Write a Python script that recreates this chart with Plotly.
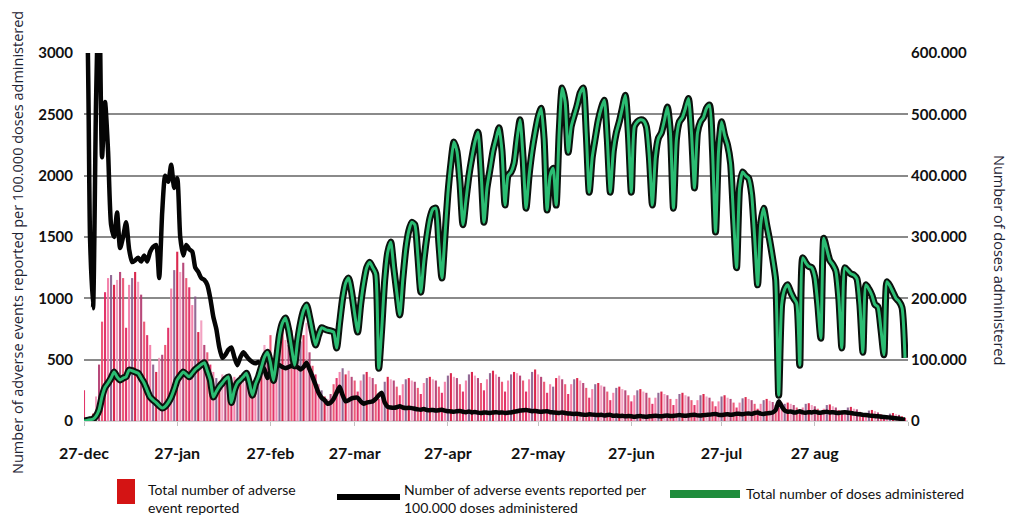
import pandas as pd
import plotly.graph_objects as go

# ---------------------------------------------------------------------------
# Daily series, 27 Dec 2020 onwards (one value per day, listed week by week,
# each week starting on a Sunday)
# ---------------------------------------------------------------------------
start_date = "2020-12-27"

# Total number of adverse events reported per day
adverse_events = [
    250, 20, 30, 60, 200, 460, 810,
    1050, 1165, 1190, 1110, 1150, 1215, 1165,
    760, 1110, 1165, 1215, 1135, 1030, 810,
    700, 620, 460, 400, 515, 540, 620,
    760, 1080, 1230, 1380, 1215, 1290, 1165,
    1090, 945, 1015, 725, 820, 620, 560,
    460, 400, 350, 320, 380, 350, 320,
    250, 360, 330, 375, 320, 340, 300,
    280, 350, 400, 520, 620, 560, 700,
    480, 620, 700, 740, 660, 620, 740,
    500, 600, 650, 700, 800, 560, 450,
    380, 300, 250, 200, 180, 220, 300,
    350, 400, 430, 380, 410, 360, 330,
    240, 330, 380, 400, 360, 350, 300,
    180, 200, 320, 360, 340, 330, 280,
    210, 300, 340, 350, 330, 320, 270,
    220, 310, 350, 360, 340, 330, 280,
    230, 320, 370, 390, 360, 350, 300,
    240, 330, 380, 400, 370, 350, 310,
    250, 340, 390, 410, 380, 360, 320,
    240, 330, 380, 400, 390, 370, 330,
    240, 340, 400, 420, 380, 360, 320,
    230, 300, 280, 350, 370, 340, 300,
    220, 300, 340, 350, 330, 310, 270,
    190, 260, 300, 310, 290, 280, 240,
    170, 230, 270, 280, 260, 250, 210,
    160, 210, 250, 260, 240, 230, 190,
    140, 190, 230, 240, 220, 210, 180,
    130, 180, 220, 230, 210, 200, 170,
    130, 170, 210, 220, 200, 190, 160,
    120, 160, 200, 210, 190, 180, 150,
    110, 150, 185, 195, 180, 170, 140,
    100, 140, 170, 180, 165, 155, 130,
    110, 150, 140, 150, 140, 130, 110,
    80, 110, 140, 145, 130, 120, 100,
    70, 100, 130, 135, 120, 110, 90,
    60, 85, 110, 115, 100, 95, 75,
    45, 65, 85, 90, 80, 70, 55,
    30, 45, 60, 65, 55, 50, 40,
    25,
]

# Adverse events reported per 100.000 doses administered
events_per_100k = [
    3500, 3300, 1500, 920, 2600, 3600, 2150,
    2600, 2200, 1600, 1500, 1700, 1410, 1500,
    1620, 1400, 1295, 1310, 1330, 1300, 1350,
    1300, 1380, 1420, 1435, 1165, 1700, 2000,
    1950, 2090, 1900, 1980, 1500, 1350, 1435,
    1400, 1380, 1250, 1215, 1165, 1150, 1110,
    1000, 850, 750, 600, 515, 540, 580,
    600, 520, 455, 520, 560, 530, 500,
    480, 470, 480, 460, 420, 350, 400,
    440, 455, 455, 440, 430, 440, 450,
    440, 440, 420, 440, 475, 420, 360,
    295, 230, 190, 170, 140, 150, 180,
    230, 280, 210, 160, 170, 185, 190,
    190, 160, 140, 150, 155, 160, 180,
    210, 230, 150, 115, 110, 108, 112,
    120, 110, 105, 108, 105, 100, 95,
    92, 98, 90, 88, 90, 85, 88,
    92, 85, 80, 78, 75, 80, 82,
    75, 72, 78, 70, 74, 68, 65,
    70, 68, 65, 70, 72, 68, 70,
    66, 68, 70, 75, 80, 85, 88,
    90, 85, 80, 82, 78, 75, 78,
    80, 72, 70, 68, 66, 70, 65,
    62, 60, 58, 60, 55, 52, 50,
    55, 52, 50, 48, 50, 45, 48,
    50, 42, 45, 40, 42, 38, 40,
    38, 35, 38, 40, 36, 35, 38,
    40, 42, 40, 38, 42, 45, 40,
    42, 45, 48, 44, 42, 45, 48,
    50, 46, 44, 48, 50, 52, 55,
    58, 50, 48, 52, 55, 50, 54,
    60, 58, 55, 60, 62, 58, 65,
    70, 60, 58, 62, 65, 70, 90,
    160, 120, 85, 75, 78, 70, 72,
    80, 70, 68, 72, 70, 75, 70,
    68, 72, 75, 70, 72, 68, 65,
    70, 72, 68, 65, 60, 58, 55,
    50, 48, 45, 42, 40, 38, 35,
    32, 30, 28, 25, 22, 20, 15,
    12,
]

# Total number of doses administered per day (thousands)
doses_thousands = [
    0, 1, 2, 3, 8, 18, 40,
    55, 62, 70, 80, 72, 67, 70,
    72, 83, 82, 80, 78, 70, 62,
    50, 39, 34, 30, 25, 21, 24,
    30, 39, 52, 67, 74, 80, 76,
    72, 78, 84, 88, 92, 95, 82,
    67, 39, 48, 56, 62, 68, 72,
    30, 50, 62, 67, 72, 78, 62,
    42, 60, 72, 88, 104, 112, 95,
    66, 100, 140, 160, 168, 150, 120,
    91, 130, 160, 180, 189, 170, 145,
    124, 140, 152, 150, 148, 147, 145,
    119, 160, 200, 225, 233, 210, 175,
    145, 190, 225, 250, 259, 250, 240,
    86, 150, 230, 275, 292, 250, 210,
    173, 230, 280, 310, 324, 320, 270,
    210, 260, 300, 330, 345, 347, 290,
    233, 300, 370, 420, 455, 440, 390,
    320, 360, 400, 430, 455, 471, 410,
    324, 380, 410, 440, 460, 478, 440,
    352, 400, 406, 420, 460, 491, 430,
    347, 400, 440, 470, 495, 510, 460,
    344, 400, 412, 352, 470, 543, 520,
    438, 480, 498, 515, 535, 543, 470,
    373, 430, 461, 490, 510, 523, 460,
    373, 440, 470, 488, 510, 531, 470,
    373, 480, 488, 491, 490, 480, 430,
    352, 430, 461, 470, 490, 512, 470,
    347, 460, 488, 495, 510, 526, 470,
    380, 470, 488, 495, 510, 515, 440,
    308, 440, 488, 466, 450, 420, 330,
    250, 380, 406, 400, 396, 370, 300,
    222, 320, 347, 320, 295, 265, 230,
    42, 190, 215, 222, 210, 200, 192,
    91, 266, 258, 252, 250, 235, 190,
    135, 298, 280, 262, 255, 245, 200,
    119, 250, 245, 240, 238, 232, 190,
    112, 222, 215, 205, 190, 186, 150,
    108, 227, 220, 210, 200, 195, 185,
    103,
]

# Axis ticks
x_tick_dates = ["2020-12-27", "2021-01-27", "2021-02-27", "2021-03-27",
                "2021-04-27", "2021-05-27", "2021-06-27", "2021-07-27",
                "2021-08-27", "2021-09-27"]
x_tick_labels = ["27-dec", "27-jan", "27-feb", "27-mar", "27-apr",
                 "27-may", "27-jun", "27-jul", "27 aug", ""]
left_tick_values = [0, 500, 1000, 1500, 2000, 2500, 3000]
left_tick_labels = ["0", "500", "1000", "1500", "2000", "2500", "3000"]
right_tick_values = [0, 100000, 200000, 300000, 400000, 500000, 600000]
right_tick_labels = ["0", "100.000", "200.000", "300.000", "400.000",
                     "500.000", "600.000"]

legend_labels = ["Total number of adverse<br>event reported",
                 "Number of adverse events reported per<br>100.000 doses administered",
                 "Total number of doses administered"]

# ---------------------------------------------------------------------------
dates = pd.date_range(start_date, periods=len(doses_thousands), freq="D")
doses = [v * 1000 for v in doses_thousands]

# mixed reds / pinks / mauves for the daily bars
bar_palette = ["#e0245e", "#f47aa6", "#8a5f8e", "#d8163f", "#f29bbd",
               "#b23a6f", "#ea4d6e"]
bar_colors = [bar_palette[i % len(bar_palette)] for i in range(len(adverse_events))]

W, H = 1009, 517
L, R, T, B = 84, 908, 53, 421


def px(x):
    return (x - L) / (R - L)


def py(y):
    return (B - y) / (B - T)


fig = go.Figure()

fig.add_trace(go.Bar(
    x=dates, y=adverse_events, marker=dict(color=bar_colors, line=dict(width=0)),
    opacity=0.92, yaxis="y", showlegend=False, name="adverse events",
))

fig.add_trace(go.Scatter(
    x=dates, y=events_per_100k, mode="lines", yaxis="y",
    line=dict(color="#050505", width=4.5, shape="spline", smoothing=0.6),
    showlegend=False, name="per 100.000 doses",
))

# doses: dark outline under a green core
fig.add_trace(go.Scatter(
    x=dates, y=doses, mode="lines", yaxis="y2",
    line=dict(color="#0b120d", width=7, shape="spline", smoothing=0.6),
    showlegend=False, hoverinfo="skip",
))
fig.add_trace(go.Scatter(
    x=dates, y=doses, mode="lines", yaxis="y2",
    line=dict(color="#2bbd73", width=3, shape="spline", smoothing=0.6),
    showlegend=False, name="doses",
))

tick_font = dict(family="Lato, 'Open Sans', sans-serif", size=15, color="#111111",
                 weight="bold")

fig.update_layout(
    width=W, height=H,
    margin=dict(l=L, r=W - R, t=T, b=H - B, pad=0),
    paper_bgcolor="white", plot_bgcolor="white",
    bargap=0.3,
    xaxis=dict(
        type="date",
        range=[dates[0], pd.Timestamp("2021-09-27")],
        tickvals=x_tick_dates, ticktext=x_tick_labels,
        showgrid=False, showline=True, linecolor="#d4d4d4", linewidth=1,
        ticks="outside", ticklen=4, tickcolor="#c0c0c0",
        tickfont=dict(family="Lato, sans-serif", size=16, color="#111111",
                      weight="bold"),
        ticklabelstandoff=14,
    ),
    yaxis=dict(
        range=[0, 3000], tickvals=left_tick_values, ticktext=left_tick_labels,
        showgrid=True, gridcolor="#8a8a8a", gridwidth=2,
        zeroline=True, zerolinecolor="#dcdcdc", zerolinewidth=2,
        showline=False, ticks="", tickfont=tick_font, ticklabelstandoff=10,
    ),
    yaxis2=dict(
        range=[0, 600000], tickvals=right_tick_values, ticktext=right_tick_labels,
        overlaying="y", side="right", showgrid=False, zeroline=False,
        showline=False, ticks="", tickfont=tick_font, ticklabelstandoff=2,
    ),
    showlegend=False,
)

title_font = dict(family="'Open Sans', sans-serif", size=14.5, color="#1d2333")
fig.add_annotation(
    text="Number of adverse events reported per 100.000 doses administered",
    xref="paper", yref="paper", x=px(17), y=py(243), textangle=-90,
    showarrow=False, font=title_font, xanchor="center", yanchor="middle",
)
fig.add_annotation(
    text="Number of doses administered",
    xref="paper", yref="paper", x=px(1000), y=py(260), textangle=90,
    showarrow=False, font=title_font, xanchor="center", yanchor="middle",
)

# legend drawn below the plot
legend_font = dict(family="Lato, sans-serif", size=14, color="#111111")
fig.add_shape(type="rect", xref="paper", yref="paper",
              x0=px(117), x1=px(135), y0=py(504), y1=py(479),
              fillcolor="#d41414", line=dict(width=0))
fig.add_annotation(text=legend_labels[0], xref="paper", yref="paper",
                   x=px(146), y=py(498), xanchor="left", yanchor="middle",
                   align="left", showarrow=False, font=legend_font)
fig.add_shape(type="line", xref="paper", yref="paper",
              x0=px(337), x1=px(400), y0=py(497), y1=py(497),
              line=dict(color="#000000", width=6))
fig.add_annotation(text=legend_labels[1], xref="paper", yref="paper",
                   x=px(402), y=py(498), xanchor="left", yanchor="middle",
                   align="left", showarrow=False, font=legend_font)
fig.add_shape(type="line", xref="paper", yref="paper",
              x0=px(670), x1=px(740), y0=py(494), y1=py(494),
              line=dict(color="#1f8c3c", width=8))
fig.add_annotation(text=legend_labels[2], xref="paper", yref="paper",
                   x=px(744), y=py(493), xanchor="left", yanchor="middle",
                   align="left", showarrow=False, font=legend_font)

fig.write_html("out.html")
